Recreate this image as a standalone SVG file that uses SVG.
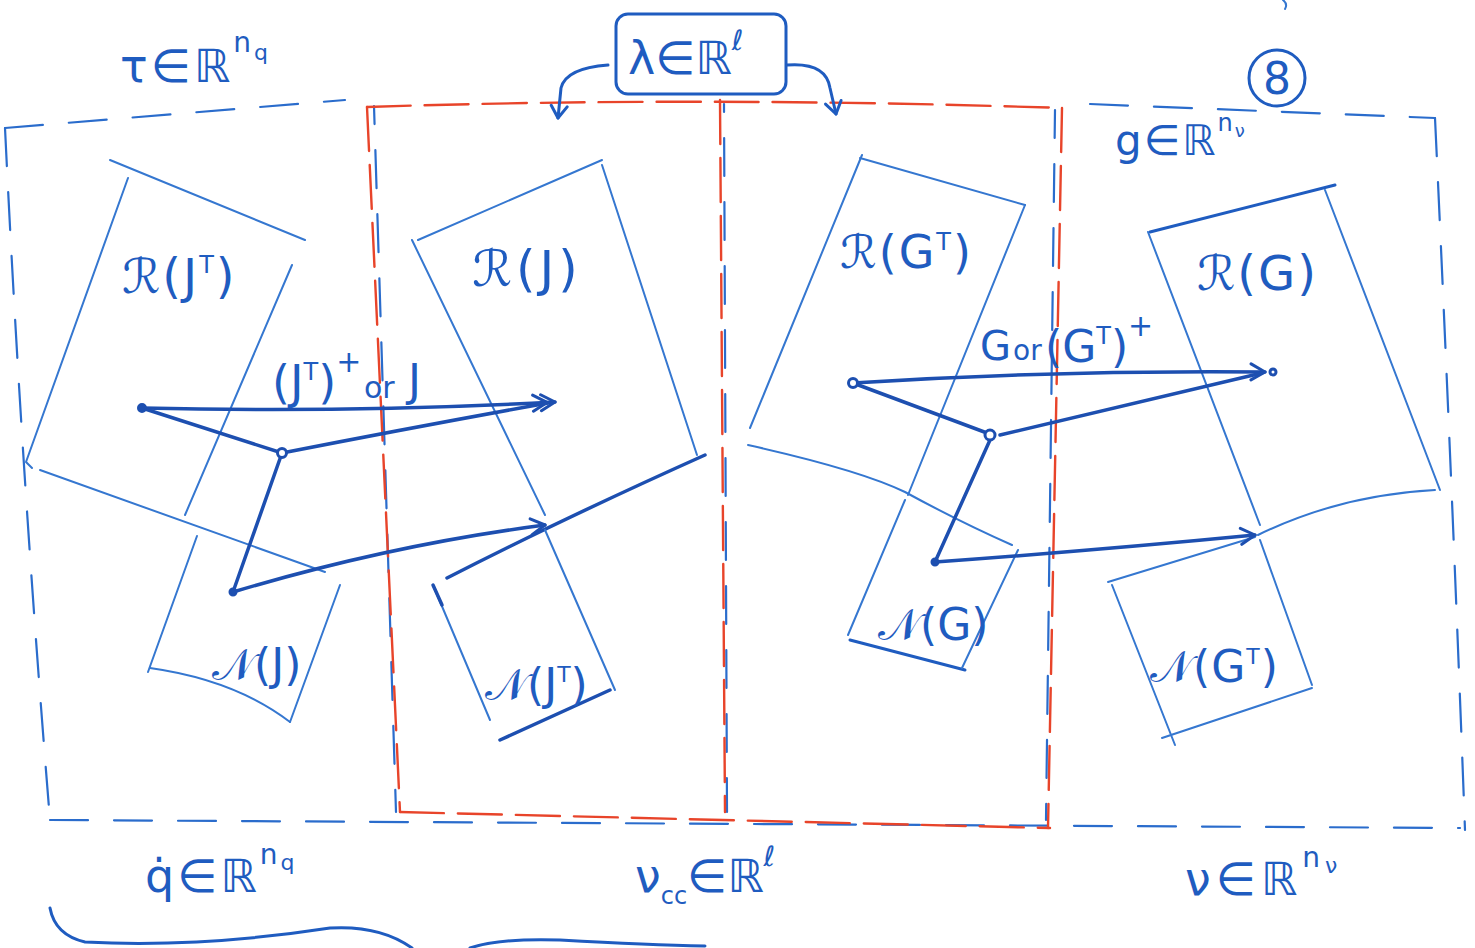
<svg xmlns="http://www.w3.org/2000/svg" width="1475" height="948" viewBox="0 0 1475 948">
<defs>
<style>
.bg{fill:#ffffff}
.thin{fill:none;stroke:#3577d0;stroke-width:2;stroke-linecap:round;stroke-linejoin:round}
.dark{fill:none;stroke:#1d4fb0;stroke-width:3.5;stroke-linecap:round;stroke-linejoin:round}
.pen{fill:none;stroke:#1f5cc0;stroke-width:3;stroke-linecap:round;stroke-linejoin:round}
.bdash{fill:none;stroke:#2a6ccc;stroke-width:2.2;stroke-dasharray:38 26;stroke-linecap:round}
.rdash{fill:none;stroke:#e8442a;stroke-width:2.4;stroke-dasharray:44 14;stroke-linecap:round}
.t{font-family:"DejaVu Sans","Noto Sans",sans-serif;fill:#1f5cc0}
.dot{fill:#1d4fb0;stroke:#1d4fb0;stroke-width:2}
.odot{fill:#ffffff;stroke:#1d4fb0;stroke-width:3}
</style>
<marker id="chev" viewBox="-16 -10 20 20" markerWidth="20" markerHeight="20" refX="0" refY="0" orient="auto" markerUnits="userSpaceOnUse">
<path d="M-14 -8 L0 0 L-14 8" fill="none" stroke="#1d4fb0" stroke-width="3" stroke-linecap="round" stroke-linejoin="round"/>
</marker>
<marker id="dchev" viewBox="-24 -10 28 20" markerWidth="28" markerHeight="20" refX="0" refY="0" orient="auto" markerUnits="userSpaceOnUse">
<path d="M-14 -8 L0 0 L-14 8 M-22 -8 L-8 0 L-22 8" fill="none" stroke="#1d4fb0" stroke-width="3" stroke-linecap="round" stroke-linejoin="round"/>
</marker>
<marker id="pchev" viewBox="-16 -10 20 20" markerWidth="20" markerHeight="20" refX="0" refY="0" orient="auto" markerUnits="userSpaceOnUse">
<path d="M-12 -8 L0 0 L-12 8" fill="none" stroke="#1f5cc0" stroke-width="3" stroke-linecap="round" stroke-linejoin="round"/>
</marker>
</defs>
<rect class="bg" x="0" y="0" width="1475" height="948"/>

<g id="spaces">
  <path class="bdash" d="M5 128 L345 100"/>
  <path class="bdash" d="M5 128 Q 22 480 50 820"/>
  <path class="bdash" d="M50 820 L1460 828"/>
  <path class="bdash" d="M374 106 Q 385 460 396 812" stroke-dashoffset="20"/>
  <path class="bdash" d="M724 104 L727 812" stroke-dashoffset="30"/>
  <path class="bdash" d="M1055 110 L1046 820" stroke-dashoffset="10"/>
  <path class="bdash" d="M1090 104 L1435 118"/>
  <path class="bdash" d="M1435 118 Q 1452 480 1465 830"/>
  <path class="rdash" d="M367 107 Q 700 96 1062 108"/>
  <path class="rdash" d="M367 107 L400 812"/>
  <path class="rdash" d="M400 812 Q 720 820 1050 828"/>
  <path class="rdash" d="M1062 108 L1048 828"/>
  <path class="rdash" d="M720 100 L725 812"/>
</g>

<g id="lambda">
  <rect class="pen" x="616" y="14" width="170" height="80" rx="12"/>
  <text class="t" x="628" y="74" font-size="46">λ∈ℝ<tspan dy="-24" font-size="28">ℓ</tspan></text>
</g>

<g id="RJT">
  <path class="thin" d="M110 160 L305 240"/>
  <path class="thin" d="M128 178 L26 462 L32 468"/>
  <path class="thin" d="M292 265 L185 515"/>
  <path class="thin" d="M40 470 Q 180 520 325 572"/>
  <text class="t" x="122" y="293" font-size="48" letter-spacing="2">ℛ(J<tspan dy="-20" font-size="24">T</tspan><tspan dy="20">)</tspan></text>
</g>

<g id="NJ">
  <path class="thin" d="M197 536 L148 672"/>
  <path class="thin" d="M150 668 Q 235 680 290 722"/>
  <path class="thin" d="M340 585 L290 722"/>
  <text class="t" x="212" y="680" font-size="44">𝒩(J)</text>
</g>

<g id="RJ">
  <path class="thin" d="M418 240 L602 160"/>
  <path class="thin" d="M412 240 L545 515"/>
  <path class="thin" d="M602 165 L697 455"/>
  <path class="dark" d="M447 578 Q 560 520 705 455"/>
  <text class="t" x="472" y="286" font-size="50" letter-spacing="4">ℛ(J)</text>
</g>

<g id="NJT">
  <path class="thin" d="M433 585 L490 720"/>
  <path class="dark" d="M433 585 L442 605"/>
  <path class="thin" d="M545 530 L615 690"/>
  <path class="dark" d="M500 740 L610 690"/>
  <text class="t" x="485" y="700" font-size="44">𝒩(J<tspan dy="-18" font-size="22">T</tspan><tspan dy="18">)</tspan></text>
</g>

<g id="RGT">
  <path class="thin" d="M860 158 L1025 205"/>
  <path class="thin" d="M862 155 L750 428"/>
  <path class="thin" d="M1025 205 L908 495"/>
  <path class="thin" d="M748 445 Q 860 470 905 492 Q 960 522 1012 545"/>
  <text class="t" x="840" y="268" font-size="46" letter-spacing="2">ℛ(G<tspan dy="-18" font-size="24">T</tspan><tspan dy="18">)</tspan></text>
</g>

<g id="NG">
  <path class="thin" d="M905 500 L848 635"/>
  <path class="pen" d="M850 640 L965 670"/>
  <path class="thin" d="M1018 550 L962 668"/>
  <text class="t" x="878" y="640" font-size="44">𝒩(G)</text>
</g>

<g id="RG">
  <path class="pen" d="M1150 232 L1335 185"/>
  <path class="thin" d="M1148 232 L1260 525"/>
  <path class="thin" d="M1325 190 L1440 490"/>
  <path class="thin" d="M1258 535 Q 1340 495 1435 490"/>
  <text class="t" x="1197" y="290" font-size="48" letter-spacing="2">ℛ(G)</text>
</g>

<g id="NGT">
  <path class="thin" d="M1108 582 L1255 537"/>
  <path class="thin" d="M1112 585 L1175 745"/>
  <path class="thin" d="M1260 540 L1312 685"/>
  <path class="thin" d="M1162 738 L1312 688"/>
  <text class="t" x="1150" y="682" font-size="44" letter-spacing="1">𝒩(G<tspan dy="-18" font-size="22">T</tspan><tspan dy="18">)</tspan></text>
</g>

<g id="connectors">
  <path class="pen" d="M608 65 Q 566 68 561 88 L558 118" marker-end="url(#pchev)"/>
  <path class="pen" d="M787 65 Q 826 62 830 88 L836 114" marker-end="url(#pchev)"/>
  <path class="dark" d="M142 408 Q 350 413 555 402" marker-end="url(#dchev)"/>
  <path class="dark" d="M142 408 L282 453"/>
  <path class="dark" d="M282 453 Q 420 426 548 403"/>
  <path class="dark" d="M282 453 L233 592"/>
  <path class="dark" d="M233 592 Q 390 545 545 525" marker-end="url(#chev)"/>
  <circle class="dot" cx="142" cy="408" r="4"/>
  <circle class="odot" cx="282" cy="453" r="4.5"/>
  <circle class="dot" cx="233" cy="592" r="3.5"/>
  <path class="dark" d="M853 383 Q 1060 370 1265 372" marker-end="url(#chev)"/>
  <circle class="odot" cx="1273" cy="372" r="3"/>
  <path class="dark" d="M853 383 L987 433"/>
  <path class="dark" d="M1000 435 L1262 373"/>
  <path class="dark" d="M990 440 L935 562"/>
  <path class="dark" d="M935 562 Q 1100 550 1255 535" marker-end="url(#chev)"/>
  <circle class="odot" cx="853" cy="383" r="4.5"/>
  <circle class="odot" cx="990" cy="435" r="5"/>
  <circle class="dot" cx="935" cy="562" r="3.5"/>
</g>

<g id="labels">
  <text class="t" x="272" y="398" font-size="46">(J<tspan dy="-18" font-size="24">T</tspan><tspan dy="18">)</tspan><tspan dy="-26" font-size="30">+</tspan></text>
  <text class="t" x="364" y="398" font-size="30">or</text>
  <text class="t" x="408" y="396" font-size="44">J</text>
  <text class="t" x="980" y="360" font-size="40">G</text>
  <text class="t" x="1013" y="360" font-size="28">or</text>
  <text class="t" x="1045" y="362" font-size="44">(G<tspan dy="-18" font-size="24">T</tspan><tspan dy="18">)</tspan><tspan dy="-26" font-size="30">+</tspan></text>
  <text class="t" x="120" y="82" font-size="46" letter-spacing="3">τ∈ℝ<tspan dy="-30" font-size="28">n</tspan><tspan dy="8" font-size="22">q</tspan></text>
  <text class="t" x="1115" y="155" font-size="42" letter-spacing="2">g∈ℝ<tspan dy="-24" font-size="24">n</tspan><tspan dy="6" font-size="18">ν</tspan></text>
  <circle class="pen" cx="1277" cy="78" r="28"/>
  <text class="t" x="1277" y="94" font-size="44" text-anchor="middle">8</text>
  <text class="t" x="145" y="892" font-size="46" letter-spacing="3">q̇∈ℝ<tspan dy="-28" font-size="28">n</tspan><tspan dy="6" font-size="22">q</tspan></text>
  <text class="t" x="635" y="892" font-size="46">ν<tspan dy="12" font-size="24">cc</tspan><tspan dy="-12">∈ℝ</tspan><tspan dy="-26" font-size="28">ℓ</tspan></text>
  <text class="t" x="1185" y="895" font-size="46" letter-spacing="5">ν∈ℝ<tspan dy="-28" font-size="28">n</tspan><tspan dy="6" font-size="22">ν</tspan></text>
</g>

<g id="brace">
  <path class="pen" d="M50 908 Q 55 935 85 942 Q 200 948 330 928 Q 380 925 412 948"/>
  <path class="pen" d="M470 948 Q 500 938 560 940 Q 650 945 705 946"/>
  <path class="thin" d="M1283 0 Q 1288 4 1285 9"/>
</g>
</svg>
